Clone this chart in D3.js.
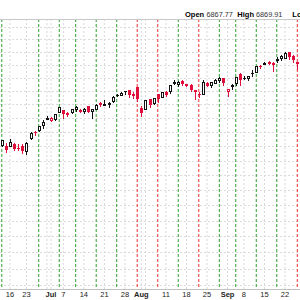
<!DOCTYPE html>
<html><head><meta charset="utf-8">
<script src="https://cdn.jsdelivr.net/npm/d3@7/dist/d3.min.js"></script>
<style>html,body{margin:0;padding:0;background:#fff;overflow:hidden}</style>
</head><body><svg id="c" width="300" height="300"></svg>
<script>
const dates = ["2025-06-12","2025-06-13","2025-06-16","2025-06-17","2025-06-18","2025-06-20","2025-06-23","2025-06-24","2025-06-25","2025-06-26","2025-06-27","2025-06-30","2025-07-01","2025-07-02","2025-07-03","2025-07-07","2025-07-08","2025-07-09","2025-07-10","2025-07-11","2025-07-14","2025-07-15","2025-07-16","2025-07-17","2025-07-18","2025-07-21","2025-07-22","2025-07-23","2025-07-24","2025-07-25","2025-07-28","2025-07-29","2025-07-30","2025-07-31","2025-08-01","2025-08-04","2025-08-05","2025-08-06","2025-08-07","2025-08-08","2025-08-11","2025-08-12","2025-08-13","2025-08-14","2025-08-15","2025-08-18","2025-08-19","2025-08-20","2025-08-21","2025-08-22","2025-08-25","2025-08-26","2025-08-27","2025-08-28","2025-08-29","2025-09-02","2025-09-03","2025-09-04","2025-09-05","2025-09-08","2025-09-09","2025-09-10","2025-09-11","2025-09-12","2025-09-15","2025-09-16","2025-09-17","2025-09-18","2025-09-19","2025-09-22","2025-09-23","2025-09-24","2025-09-25"];
const opens = [6009.90,6000.56,6004.00,6012.35,5987.93,5999.67,5969.67,6061.21,6104.21,6112.10,6150.70,6193.36,6187.25,6193.12,6246.45,6259.75,6235.80,6245.27,6266.14,6255.86,6255.15,6287.95,6248.85,6263.64,6313.04,6304.74,6306.60,6326.90,6368.60,6370.01,6397.69,6404.07,6374.08,6427.02,6271.71,6268.00,6336.95,6309.30,6374.03,6358.65,6389.67,6397.27,6462.35,6451.06,6478.87,6445.02,6446.89,6406.00,6380.09,6374.56,6457.67,6441.61,6457.61,6483.90,6498.14,6401.51,6445.82,6456.81,6529.05,6498.09,6500.45,6537.52,6546.81,6590.52,6603.59,6624.39,6609.86,6641.35,6649.44,6653.89,6695.62,6664.71,6618.07];
const highs = [6045.43,6026.16,6050.83,6023.25,6018.25,6018.20,6028.11,6101.80,6108.51,6146.52,6187.68,6215.08,6210.78,6227.60,6284.65,6262.33,6242.71,6269.02,6290.22,6269.95,6271.62,6291.67,6268.07,6302.32,6315.61,6336.08,6316.12,6360.64,6381.31,6395.82,6401.07,6409.26,6389.97,6427.02,6287.28,6330.27,6343.27,6350.37,6379.02,6395.16,6400.51,6446.20,6480.28,6473.91,6481.34,6455.35,6456.01,6407.58,6393.58,6481.27,6466.89,6466.96,6487.32,6508.23,6500.81,6416.54,6453.67,6502.54,6532.65,6511.77,6512.61,6555.97,6592.85,6600.21,6619.62,6626.99,6623.97,6656.79,6671.82,6698.65,6696.75,6676.77,6619.51];
const lows = [6003.88,5963.21,6004.00,5974.80,5971.89,5952.56,5943.23,6051.07,6080.09,6107.61,6132.35,6193.36,6177.97,6188.29,6246.45,6201.81,6217.72,6237.97,6253.46,6242.81,6237.03,6243.72,6201.59,6263.64,6285.27,6303.79,6281.71,6317.49,6360.57,6368.53,6375.76,6358.96,6346.08,6326.83,6212.69,6268.00,6282.06,6304.52,6316.51,6358.65,6364.14,6387.23,6450.86,6441.07,6445.02,6437.39,6400.22,6343.87,6355.55,6374.56,6438.06,6433.23,6457.61,6466.50,6447.41,6360.58,6416.17,6445.39,6443.98,6489.38,6486.49,6515.31,6545.80,6575.74,6602.44,6601.95,6551.14,6619.42,6634.97,6653.89,6644.67,6624.18,6569.22];
const closes = [6045.26,5976.97,6033.11,5982.72,5980.87,5967.84,6025.17,6092.18,6092.16,6141.02,6173.07,6204.95,6198.01,6227.42,6279.35,6229.98,6225.52,6263.26,6280.46,6259.75,6268.56,6243.76,6263.70,6297.36,6296.79,6305.60,6309.62,6358.91,6363.35,6388.64,6389.77,6370.86,6362.90,6339.39,6238.01,6329.94,6299.19,6345.06,6340.00,6389.45,6373.45,6445.76,6466.58,6468.54,6449.80,6449.15,6411.37,6395.78,6370.17,6466.91,6439.32,6465.94,6481.40,6501.86,6460.26,6415.54,6448.26,6502.08,6481.50,6495.15,6512.61,6532.04,6587.47,6584.29,6615.28,6606.76,6600.35,6631.96,6664.36,6693.75,6656.92,6637.97,6604.72];
const priorClose = 6022.24;
const gridPrices = [5100,5200,5300,5400,5500,5600,5700,5800,5900,6000,6100,6200,6300,6400,6500,6600,6700,6800,6900];
const weekGridDates = ["2025-06-16","2025-06-23","2025-06-30","2025-07-01","2025-07-07","2025-07-14","2025-07-21","2025-07-28","2025-08-01","2025-08-04","2025-08-11","2025-08-18","2025-08-25","2025-09-02","2025-09-08","2025-09-15","2025-09-22"];
const tickDates = ["2025-06-16","2025-06-23","2025-07-01","2025-07-07","2025-07-14","2025-07-21","2025-07-28","2025-08-01","2025-08-11","2025-08-18","2025-08-25","2025-09-02","2025-09-08","2025-09-15","2025-09-22"];
const tickLabels = ["16","23","Jul","7","14","21","28","Aug","11","18","25","Sep","8","15","22"];
const markerDates = ["2025-06-12","2025-06-26","2025-07-03","2025-07-10","2025-07-17","2025-07-24","2025-07-31","2025-08-07","2025-08-14","2025-08-21","2025-08-28","2025-09-04","2025-09-11","2025-09-18","2025-09-25"];
const headerLabels = ["Open","High","Low"];
const headerValues = ["6867.77","6869.91",""];

const W = 300, plotTop = 19, plotBottom = 289;
const RED = "#e0103c", BLACK = "#111", GREEN = "#2ea02e", LINE_RED = "#f03030";
const svg = d3.select("#c");
const idx = new Map(dates.map((d,i)=>[d,i]));
const x = d3.scaleLinear().domain([0, dates.length-1]).range([1.79, 297.3]);
const y = d3.scaleLog().domain([5078, 6962]).range([plotBottom, plotTop]);

// horizontal grid
svg.append("g").selectAll("line").data(gridPrices).join("line")
  .attr("x1",0).attr("x2",W)
  .attr("y1",d=>Math.round(y(d))+0.5).attr("y2",d=>Math.round(y(d))+0.5)
  .attr("stroke","#dcdcdc").attr("stroke-width",1).attr("stroke-dasharray","2,2");
// weekly grid
svg.append("g").selectAll("line").data(weekGridDates).join("line")
  .attr("x1",d=>x(idx.get(d))).attr("x2",d=>x(idx.get(d)))
  .attr("y1",plotTop).attr("y2",plotBottom)
  .attr("stroke","#d8d8d8").attr("stroke-width",1).attr("stroke-dasharray","2,2");
// thursday markers
svg.append("g").selectAll("line").data(markerDates).join("line")
  .attr("x1",d=>x(idx.get(d))).attr("x2",d=>x(idx.get(d)))
  .attr("y1",plotTop).attr("y2",plotBottom)
  .attr("stroke",d=>{const i=idx.get(d); const pc=i>0?closes[i-1]:priorClose; return closes[i]>=pc?GREEN:LINE_RED;})
  .attr("stroke-width",1).attr("stroke-dasharray","3,2");

// frame lines
svg.append("line").attr("x1",0).attr("x2",W).attr("y1",plotTop+0.5).attr("y2",plotTop+0.5).attr("stroke","#c8c8c8");
svg.append("line").attr("x1",0).attr("x2",W).attr("y1",plotBottom+0.5).attr("y2",plotBottom+0.5).attr("stroke","#c0c0c0");

// candles
const cd = dates.map((d,i)=>({i,o:opens[i],h:highs[i],l:lows[i],c:closes[i],pc:i>0?closes[i-1]:priorClose}));
const g = svg.append("g");
cd.forEach(d=>{
  const cx = Math.round(x(d.i));
  const col = d.c < d.pc ? RED : BLACK;
  const hollow = d.c > d.o;
  const yt = Math.round(y(Math.max(d.o,d.c))), yb = Math.round(y(Math.min(d.o,d.c)));
  g.append("line").attr("x1",cx+0.5).attr("x2",cx+0.5)
    .attr("y1",Math.round(y(d.h))).attr("y2",Math.round(y(d.l))+1)
    .attr("stroke",col).attr("stroke-width",1);
  if (hollow) {
    g.append("rect").attr("x",cx-0.5).attr("y",yt+0.5).attr("width",2).attr("height",Math.max(1,yb-yt))
      .attr("fill","#fff").attr("stroke",col).attr("stroke-width",1);
  } else {
    g.append("rect").attr("x",cx-1).attr("y",yt).attr("width",3).attr("height",Math.max(1,yb-yt))
      .attr("fill",col);
  }
});

// x-axis labels
svg.append("g").selectAll("text").data(tickDates).join("text")
  .attr("x",d=>x(idx.get(d))).attr("y",297)
  .attr("text-anchor","middle")
  .attr("font-family","Liberation Sans, Arial, sans-serif")
  .attr("font-size",7.5)
  .attr("font-weight",(d,i)=>isNaN(+tickLabels[i])?"bold":"normal")
  .attr("fill","#222")
  .text((d,i)=>tickLabels[i]);

// header
const hx = [185, 237.3, 292.3], vx = [206.5, 256];
const hg = svg.append("g").attr("font-family","Liberation Sans, Arial, sans-serif");
headerLabels.forEach((t,i)=>{
  hg.append("text").attr("x",hx[i]).attr("y",17).attr("font-size",7.5).attr("font-weight","bold").attr("fill","#000").text(t);
  if (headerValues[i]) hg.append("text").attr("x",vx[i]).attr("y",17).attr("font-size",7.3).attr("fill","#333").text(headerValues[i]);
});
</script></body></html>
